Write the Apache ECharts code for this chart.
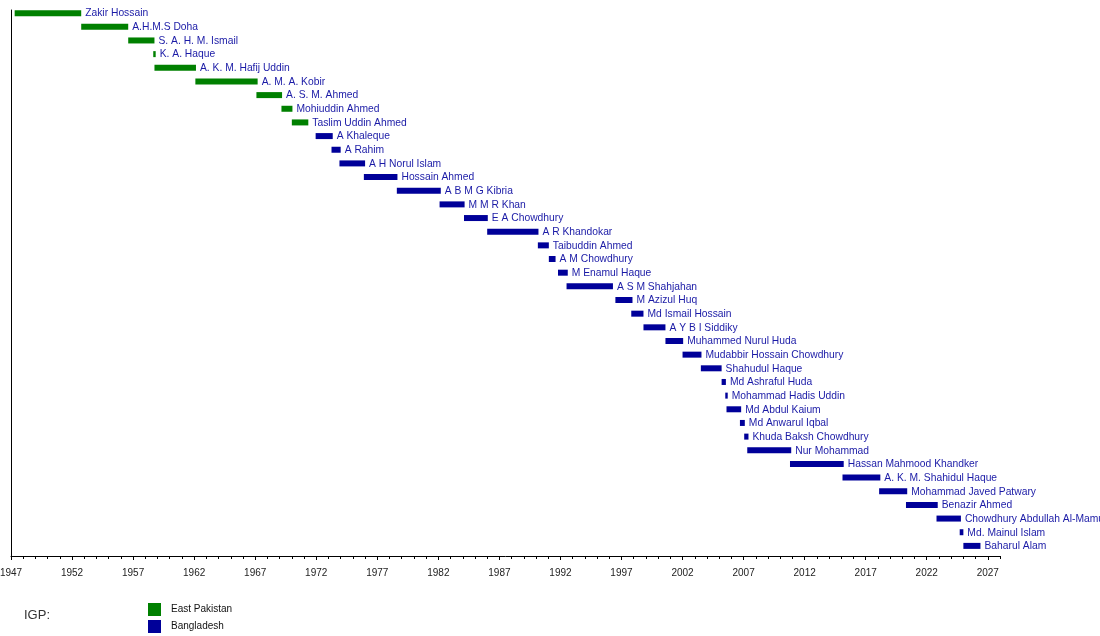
<!DOCTYPE html>
<html lang="en">

<head>
    <meta charset="UTF-8">
    <title>IGP timeline</title>
    <script src="https://cdn.jsdelivr.net/npm/echarts@6/dist/echarts.min.js"></script>
    <style>
        * {
            margin: 0;
            padding: 0;
        }

        #main {
            width: 1100px;
            height: 636px;
            background: #fff;
        }
    </style>
</head>

<body>
    <div id="main"></div>
    <script>
        // officers, top to bottom
        var names = [
            'Zakir Hossain', 'A.H.M.S Doha', 'S. A. H. M. Ismail', 'K. A. Haque', 'A. K. M. Hafij Uddin',
            'A. M. A. Kobir', 'A. S. M. Ahmed', 'Mohiuddin Ahmed', 'Taslim Uddin Ahmed', 'A Khaleque',
            'A Rahim', 'A H Norul Islam', 'Hossain Ahmed', 'A B M G Kibria', 'M M R Khan',
            'E A Chowdhury', 'A R Khandokar', 'Taibuddin Ahmed', 'A M Chowdhury', 'M Enamul Haque',
            'A S M Shahjahan', 'M Azizul Huq', 'Md Ismail Hossain', 'A Y B I Siddiky', 'Muhammed Nurul Huda',
            'Mudabbir Hossain Chowdhury', 'Shahudul Haque', 'Md Ashraful Huda', 'Mohammad Hadis Uddin', 'Md Abdul Kaium',
            'Md Anwarul Iqbal', 'Khuda Baksh Chowdhury', 'Nur Mohammad', 'Hassan Mahmood Khandker', 'A. K. M. Shahidul Haque',
            'Mohammad Javed Patwary', 'Benazir Ahmed', 'Chowdhury Abdullah Al-Mamun', 'Md. Mainul Islam', 'Baharul Alam'
        ];
        var starts = [
            1947.3, 1952.75, 1956.6, 1958.65, 1958.75,
            1962.1, 1967.1, 1969.15, 1970.0, 1971.95,
            1973.25, 1973.9, 1975.9, 1978.6, 1982.1,
            1984.1, 1986.0, 1990.15, 1991.05, 1991.8,
            1992.5, 1996.5, 1997.8, 1998.8, 2000.6,
            2002.0, 2003.5, 2005.2, 2005.5, 2005.6,
            2006.7, 2007.05, 2007.3, 2010.8, 2015.1,
            2018.1, 2020.3, 2022.8, 2024.7, 2025.0
        ];
        var ends = [
            1952.75, 1956.6, 1958.75, 1958.85, 1962.15,
            1967.2, 1969.2, 1970.05, 1971.35, 1973.35,
            1974.0, 1976.0, 1978.65, 1982.2, 1984.15,
            1986.05, 1990.2, 1991.05, 1991.6, 1992.6,
            1996.3, 1997.9, 1998.8, 2000.6, 2002.05,
            2003.55, 2005.2, 2005.55, 2005.7, 2006.8,
            2007.1, 2007.4, 2010.9, 2015.2, 2018.2,
            2020.4, 2022.9, 2024.8, 2025.0, 2026.4
        ];
        var eras = ['East Pakistan', 'Bangladesh'];
        var eastPakistanCount = 9;
        var eraColors = ['#008000', '#000099'];
        var yearMin = 1947, yearMax = 2028;

        var chartDom = document.getElementById('main');
        var myChart = echarts.init(chartDom);

        function rowsFor(era) {
            var rows = [];
            names.forEach(function (n, i) {
                var e = i < eastPakistanCount ? 0 : 1;
                if (e === era) rows.push([starts[i], ends[i], i, n]);
            });
            return rows;
        }

        function renderBar(params, api) {
            var p0 = api.coord([api.value(0), api.value(2)]);
            var p1 = api.coord([api.value(1), api.value(2)]);
            var h = 6;
            return {
                type: 'group',
                children: [{
                    type: 'rect',
                    shape: { x: p0[0], y: p0[1] - h / 2, width: Math.max(p1[0] - p0[0], 1.5), height: h },
                    style: { fill: api.visual('color') }
                }, {
                    type: 'text',
                    x: p1[0] + 4,
                    y: p1[1] + 0.5,
                    style: {
                        text: names[api.value(2)],
                        fill: '#1a1aa6',
                        font: '10.3px "Liberation Sans", Arial, sans-serif',
                        verticalAlign: 'middle',
                        align: 'left'
                    }
                }]
            };
        }

        // same box twice: one for yearly ticks, one for the 5-year labels
        var box = { left: 11, right: 100, top: 10, bottom: 80, outerBoundsMode: 'none' };

        var option = {
            animation: false,
            backgroundColor: '#fff',
            title: {
                text: 'IGP:',
                left: 19,
                top: 604,
                textStyle: { fontSize: 13, fontWeight: 'normal', color: '#333', fontFamily: 'Liberation Sans' }
            },
            legend: {
                orient: 'vertical',
                left: 148,
                top: 603,
                padding: 0,
                itemGap: 4,
                itemWidth: 13,
                itemHeight: 13,
                icon: 'rect',
                selectedMode: false,
                textStyle: { fontSize: 10, color: '#111', fontFamily: 'Liberation Sans', padding: [3, 0, 0, 5] },
                data: eras
            },
            grid: [box, Object.assign({}, box)],
            xAxis: [{
                gridIndex: 0,
                type: 'value',
                min: yearMin,
                max: yearMax,
                interval: 5,
                position: 'bottom',
                axisLine: { show: true, onZero: false, lineStyle: { color: '#000', width: 1 } },
                axisTick: { show: true, length: 4, lineStyle: { color: '#000' } },
                axisLabel: {
                    show: true,
                    margin: 12,
                    showMaxLabel: false,
                    fontSize: 10,
                    color: '#222',
                    fontFamily: 'Liberation Sans',
                    formatter: function (v) { return String(v); }
                },
                splitLine: { show: false }
            }, {
                gridIndex: 1,
                type: 'value',
                min: yearMin,
                max: yearMax,
                interval: 1,
                position: 'bottom',
                axisLine: { show: false, onZero: false },
                axisTick: { show: true, length: 3, lineStyle: { color: '#000' } },
                axisLabel: { show: false },
                splitLine: { show: false }
            }],
            yAxis: [{
                gridIndex: 0,
                type: 'value',
                inverse: true,
                min: -0.23,
                max: 39.74,
                axisLine: { show: true, onZero: false, lineStyle: { color: '#000', width: 1 } },
                axisTick: { show: false },
                axisLabel: { show: false },
                splitLine: { show: false }
            }, {
                gridIndex: 1,
                type: 'value',
                show: false
            }],
            series: eras.map(function (era, k) {
                return {
                    name: era,
                    type: 'custom',
                    clip: false,
                    xAxisIndex: 0,
                    yAxisIndex: 0,
                    itemStyle: { color: eraColors[k] },
                    renderItem: renderBar,
                    encode: { x: [0, 1], y: 2 },
                    data: rowsFor(k)
                };
            })
        };
        myChart.setOption(option);
    </script>
</body>
</html>
